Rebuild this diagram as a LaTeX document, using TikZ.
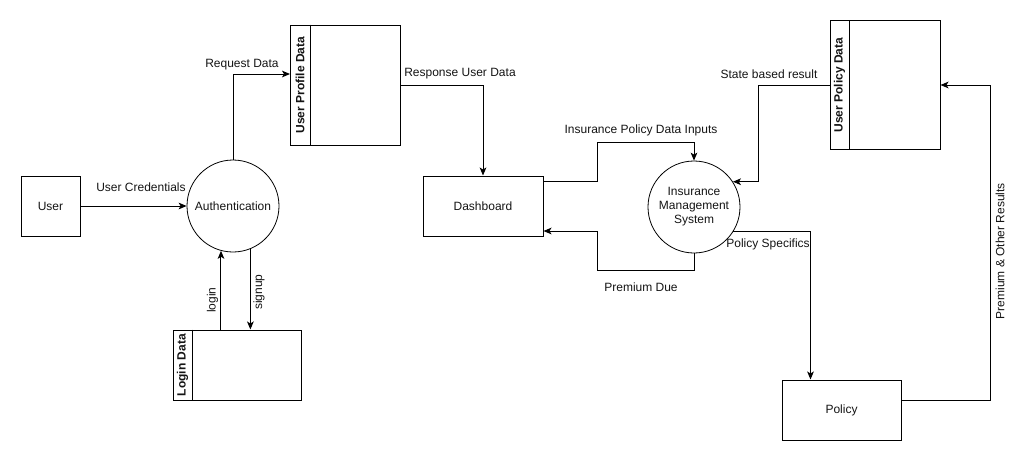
\documentclass[tikz,border=0pt]{standalone}
\usepackage{fontspec}
\setmainfont{Liberation Sans}
\usetikzlibrary{arrows.meta, positioning, calc}
\definecolor{linecolor}{RGB}{0, 0, 0}
\definecolor{textcolor}{RGB}{20, 20, 20}

\begin{document}
\begin{tikzpicture}[
    x=0.75pt, y=-0.75pt,
    % Entity box style
    entity/.style={
        rectangle,
        draw=linecolor,
        line width=0.75pt,
        inner sep=0pt,
        font=\fontsize{9}{11}\selectfont,
        text=textcolor
    },
    % Process style
    process/.style={
        circle,
        draw=linecolor,
        line width=0.6pt,
        minimum size=69pt,
        inner sep=0pt,
        align=center,
        font=\fontsize{9}{10.5}\selectfont,
        text=textcolor
    },
    % Data store style
    store/.style={
        rectangle,
        draw=linecolor,
        line width=0.75pt,
        inner sep=0pt
    },
    storetitle/.style={
        rotate=90,
        font=\bfseries\fontsize{9}{11}\selectfont,
        text=textcolor
    },
    % Arrow style
    flow/.style={
        -{Stealth[length=6pt, width=5pt, inset=1.5pt]},
        line width=0.75pt,
        color=linecolor
    },
    % Label style
    flowlabel/.style={
        font=\fontsize{9}{11}\selectfont,
        text=textcolor,
        inner sep=0pt
    }
]
\useasboundingbox (0,0) rectangle (1031,461);

% ===== ENTITIES AND PROCESSES =====

\node[entity, minimum width=44.25pt, minimum height=45pt] (user) at (50.5,206) {User};
\node[process] (auth) at (233,206) {Authentication};
\node[entity, minimum width=90pt, minimum height=45pt] (dash) at (483,206) {Dashboard};
\node[process] (ims) at (694,207) {Insurance\\Management\\System};
\node[entity, minimum width=89.25pt, minimum height=45pt] (policy) at (841.5,410) {Policy};

% ===== DATA STORES =====

\node[store, minimum width=82.5pt, minimum height=90pt] (profile) at (345.5,85) {};
\node[store, minimum width=96pt, minimum height=52.5pt] (login) at (237,365) {};
\node[store, minimum width=82.5pt, minimum height=96.75pt] (upolicy) at (885,85) {};

\foreach \s/\t in {profile/User Profile Data, login/Login Data, upolicy/User Policy Data} {
    \draw[line width=0.75pt, linecolor] ([xshift=15pt]\s.north west) -- ([xshift=15pt]\s.south west);
    \node[storetitle] (\s-title) at ($(\s.west)+(10,0)$) {\t};
}

% ===== FLOWS =====

\draw[flow] (user) -- (auth);
\draw[flow] (auth.north) |- ($(profile.west)+(0,-11)$);
\draw[flow] (profile.east) -| (dash.north);

\draw[flow] (login.north -| auth.255) -- (auth.255);
\draw[flow] (auth.-68) -- (login.north -| auth.-68);

\coordinate (inbend) at (597,142);
\coordinate (duebend) at (597,270);
\draw[flow] ($(dash.east)+(0,-25)$) -| (inbend) -| (ims.north);
\draw[flow] (ims.south) |- (duebend) |- ($(dash.east)+(0,25)$);

\draw[flow] (upolicy.west) -| ($(ims.33)+(26,0)$) -- (ims.33);
\draw[flow] (ims.-32) -| ($(policy.north)+(-31,0)$);
\draw[flow] ($(policy.east)+(0,-10)$) -| ($(upolicy.east)+(50,0)$) -- (upolicy.east);

% ===== FLOW LABELS =====

\node[flowlabel] (credlbl) at (141,187) {User Credentials};
\node[flowlabel] (reqlbl) at (242,65) {Request Data};
\node[flowlabel] (resplbl) at (460,74) {Response User Data};
\node[flowlabel] (inlbl) at (641,130) {Insurance Policy Data Inputs};
\node[flowlabel] (duelbl) at (641,287) {Premium Due};
\node[flowlabel] (statelbl) at (769,74) {State based result};
\node[flowlabel] (speclbl) at (768,244) {Policy Specifics};
\node[flowlabel, rotate=90] (reslbl) at (1000,251) {Premium \& Other Results};
\node[flowlabel, rotate=90] (loginlbl) at (212.5,300) {login};
\node[flowlabel, rotate=90] (signlbl) at (259,292) {signup};

\end{tikzpicture}
\end{document}
